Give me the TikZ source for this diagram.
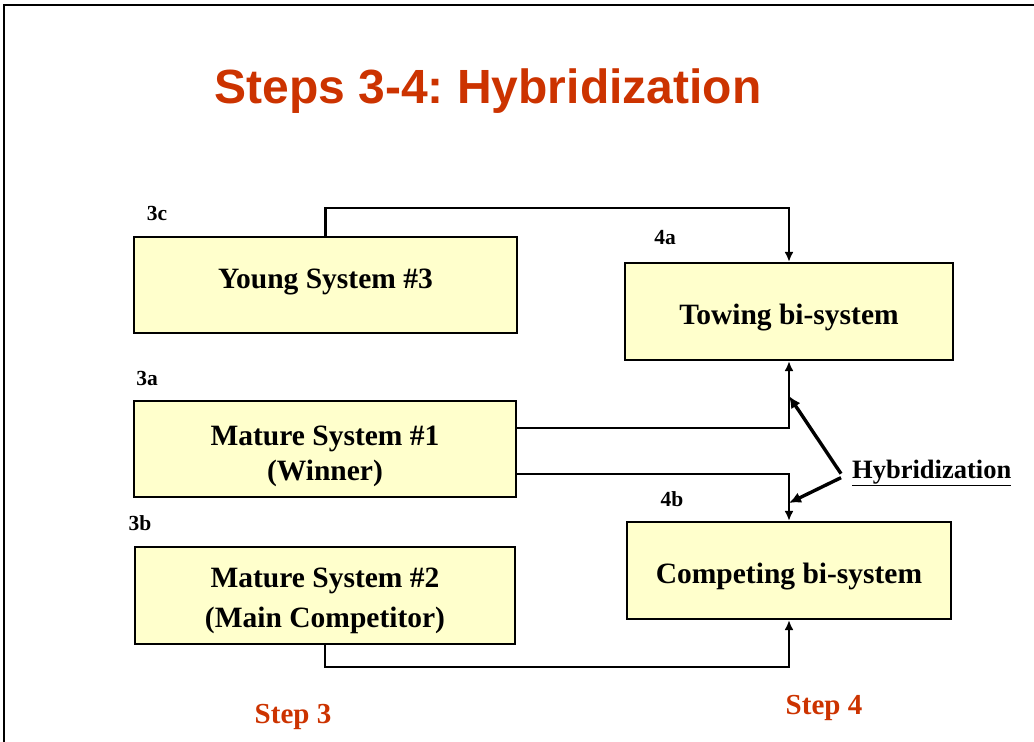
\documentclass[tikz,border=0pt]{standalone}
\usepackage{fontspec}
\setmainfont{Liberation Serif}
\newfontfamily\titlefont{Liberation Sans}
\usetikzlibrary{arrows.meta,calc}
\definecolor{boxfill}{HTML}{FFFFCC}
\definecolor{titlered}{HTML}{CC3300}
\frenchspacing
\tikzset{
  sysbox/.style={draw=black,line width=2.2pt,fill=boxfill,align=center,
    font=\bfseries\fontsize{29.5}{35}\selectfont,inner sep=0pt,text height=25pt,text depth=0pt},
  tag/.style={anchor=base,font=\bfseries\fontsize{21.5}{24}\selectfont},
  steplabel/.style={anchor=base,text=titlered,font=\bfseries\fontsize{29}{32}\selectfont},
  conn/.style={draw=black,line width=2.2pt,-{Latex[length=10pt,width=9pt]}},
  hybarrow/.style={draw=black,line width=3.4pt,-{Latex[length=12pt,width=11pt]}}
}
\begin{document}
\begin{tikzpicture}[x=1pt,y=-1pt]
\useasboundingbox (0,0) rectangle (1034,742);
\draw[line width=2pt] (1040,5) -- (4,5) -- (4,750);
\node[anchor=base,text=titlered,font=\titlefont\bfseries\fontsize{48}{56}\selectfont] (title) at (488,103) {Steps 3-4: Hybridization};
% boxes
\node[sysbox,minimum width=383pt,minimum height=96pt,text height=20pt,text depth=14pt] (young) at (325.5,285) {Young System \#3};
\node[sysbox,minimum width=328pt,minimum height=97pt] (towing) at (789,311.5) {Towing bi-system};
\node[sysbox,minimum width=382pt,minimum height=96pt,text height=62pt] (mature1) at (325,449) {Mature System \#1\\(Winner)};
\node[sysbox,minimum width=324pt,minimum height=97pt] (competing) at (789,570.5) {Competing bi-system};
\node[sysbox,minimum width=380pt,minimum height=97pt,text height=64pt] (mature2) at (325,595.5) {Mature System \#2\\[5pt](Main Competitor)};
% tags
\node[tag] (t3c) at (157,220) {3c};
\node[tag] (t4a) at (665,244) {4a};
\node[tag] (t3a) at (147,385) {3a};
\node[tag] (t4b) at (672,506) {4b};
\node[tag] (t3b) at (140,530) {3b};
\node[steplabel] (step3) at (293,723) {Step 3};
\node[steplabel] (step4) at (824,714) {Step 4};
% connectors
\draw[conn] (young.north) -- ++(0,-28) -| (towing.north);
\draw[conn] ([yshift=21pt]mature1.east) -| (towing.south);
\draw[conn] ([yshift=-25pt]mature1.east) -| (competing.north);
\draw[conn] (mature2.south) -- ++(0,22) -| (competing.south);
% hybridization
\node[anchor=base west,font=\bfseries\fontsize{26.5}{30}\selectfont,inner sep=0pt] (hyb) at (852,478) {\underline{Hybridization}};
\coordinate (h1) at (789,396);
\coordinate (h2) at (789,503);
\draw[hybarrow] ([yshift=-1pt]hyb.west) ++(-11,0) -- (h1);
\draw[hybarrow] ([yshift=-5pt]hyb.west) ++(-11,0) -- (h2);
\end{tikzpicture}
\end{document}
